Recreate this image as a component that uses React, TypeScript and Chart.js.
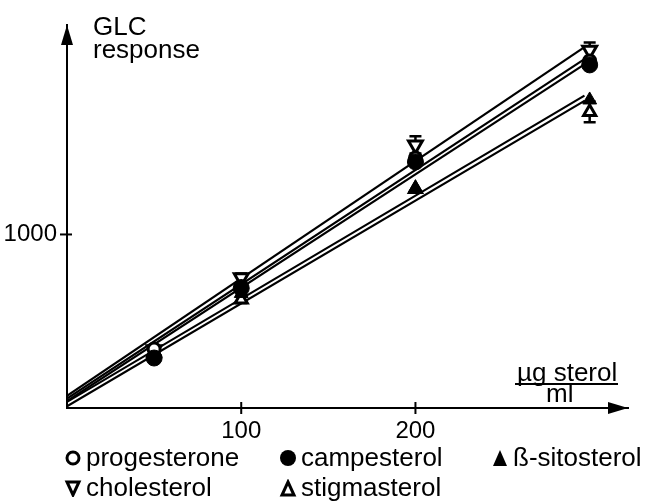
import React, { useEffect, useRef } from "react";
import { Chart, registerables } from "chart.js";

Chart.register(...registerables);

// ---- data ----
const xValues = [50, 100, 200, 300];
const progesterone = [340, 700, 1440, 2000];
const campesterol = [288, 690, 1418, 1977];
const sitosterol = [330, 660, 1268, 1775];
const cholesterol = [335, 750, 1516, 2061];
const stigmasterol = [320, 625, 1262, 1706];
const cholesterolErr = [0, 25, 50, 45];
const stigmasterolErr = [0, 20, 0, 60];

// regression lines: value at x = fitX[0] and x = fitX[1]
const fitX = [0, 297];
const cholesterolFit = [70, 2080];
const campesterolFit = [55, 2010];
const progesteroneFit = [40, 1980];
const sitosterolFit = [35, 1800];
const stigmasterolFit = [10, 1770];

const xTicks = [100, 200];
const yTicks = [1000];
const xMin = 0;
const xMax = 322;
const yMin = 0;
const yMax = 2207;

const FONT = '"Liberation Sans", Arial, sans-serif';

const pts = (vals: number[]) => vals.map((v, i) => ({ x: xValues[i], y: v }));
const fit = (vals: number[]) => vals.map((v, i) => ({ x: fitX[i], y: v }));

const errorSeries = [
  { values: cholesterol, errs: cholesterolErr },
  { values: stigmasterol, errs: stigmasterolErr },
];

const errorBarsPlugin = {
  id: "errorBars",
  beforeDatasetsDraw(chart: any) {
    const { ctx, scales } = chart;
    const x = scales.x;
    const y = scales.y;
    ctx.save();
    ctx.strokeStyle = "#000";
    ctx.lineWidth = 2.5;
    errorSeries.forEach(({ values, errs }) => {
      values.forEach((v, i) => {
        const e = errs[i];
        if (!e) return;
        const px = x.getPixelForValue(xValues[i]);
        const top = y.getPixelForValue(v + e);
        const bot = y.getPixelForValue(v - e);
        ctx.beginPath();
        ctx.moveTo(px, top);
        ctx.lineTo(px, bot);
        ctx.moveTo(px - 6, top);
        ctx.lineTo(px + 6, top);
        ctx.moveTo(px - 6, bot);
        ctx.lineTo(px + 6, bot);
        ctx.stroke();
      });
    });
    ctx.restore();
  },
};

const axesPlugin = {
  id: "axesDeco",
  afterDraw(chart: any) {
    const { ctx, scales, chartArea } = chart;
    const x = scales.x;
    const y = scales.y;
    ctx.save();
    ctx.strokeStyle = "#000";
    ctx.fillStyle = "#000";
    ctx.lineWidth = 2;
    xTicks.forEach((v) => {
      const px = x.getPixelForValue(v);
      ctx.beginPath();
      ctx.moveTo(px, chartArea.bottom - 6);
      ctx.lineTo(px, chartArea.bottom + 6);
      ctx.stroke();
    });
    yTicks.forEach((v) => {
      const py = y.getPixelForValue(v);
      ctx.beginPath();
      ctx.moveTo(chartArea.left - 7, py);
      ctx.lineTo(chartArea.left + 5, py);
      ctx.stroke();
    });
    const l = chartArea.left;
    const t = chartArea.top;
    ctx.beginPath();
    ctx.moveTo(l, t);
    ctx.lineTo(l - 6, t + 20);
    ctx.lineTo(l + 6, t + 20);
    ctx.closePath();
    ctx.fill();
    const r = chartArea.right;
    const b = chartArea.bottom;
    ctx.beginPath();
    ctx.moveTo(r, b);
    ctx.lineTo(r - 20, b - 6);
    ctx.lineTo(r - 20, b + 6);
    ctx.closePath();
    ctx.fill();
    ctx.restore();
  },
};

const lineDs = (data: any[]) => ({
  type: "line" as const,
  data,
  showLine: true,
  borderColor: "#000",
  borderWidth: 2.2,
  pointRadius: 0,
  fill: false,
  order: 2,
});

const markerDs = (data: any[], style: any, radius: number, filled: boolean, rotation = 0) => ({
  type: "scatter" as const,
  data,
  pointStyle: style,
  pointRadius: radius,
  pointRotation: rotation,
  pointBackgroundColor: filled ? "#000" : "#fff",
  pointBorderColor: "#000",
  pointBorderWidth: filled ? 1 : 3,
  showLine: false,
  order: 1,
});

function Marker({ kind }: { kind: string }) {
  const common = { stroke: "#000", strokeWidth: 3 };
  let shape: any = null;
  if (kind === "openCircle") shape = <circle cx={9} cy={9} r={6} fill="#fff" {...common} />;
  if (kind === "filledCircle") shape = <circle cx={9} cy={9} r={8} fill="#000" />;
  if (kind === "filledTri") shape = <polygon points="9,1 16,17 2,17" fill="#000" />;
  if (kind === "openTriDown") shape = <polygon points="3,3 15,3 9,16" fill="#fff" {...common} />;
  if (kind === "openTriUp") shape = <polygon points="9,3 15,16 3,16" fill="#fff" {...common} />;
  return (
    <svg width={18} height={18} style={{ display: "block" }}>
      {shape}
    </svg>
  );
}

const textStyle: React.CSSProperties = {
  position: "absolute",
  fontFamily: FONT,
  fontSize: 26,
  lineHeight: "26px",
  whiteSpace: "nowrap",
  color: "#000",
};

function LegendItem({ kind, label, left, top }: { kind: string; label: string; left: number; top: number }) {
  return (
    <>
      <div style={{ position: "absolute", left: left, top: top + 5 }}>
        <Marker kind={kind} />
      </div>
      <div style={{ ...textStyle, left: left + 22, top: top }}>{label}</div>
    </>
  );
}

export default function App() {
  const canvasRef = useRef<HTMLCanvasElement | null>(null);

  useEffect(() => {
    const canvas = canvasRef.current;
    if (!canvas) return;
    const chart = new Chart(canvas, {
      type: "scatter",
      data: {
        datasets: [
          markerDs(pts(campesterol), "circle", 8, true),
          markerDs(pts(progesterone), "circle", 6, false),
          markerDs(pts(sitosterol), "triangle", 8, true),
          markerDs(pts(cholesterol), "triangle", 8, false, 180),
          markerDs(pts(stigmasterol), "triangle", 7, false),
          lineDs(fit(cholesterolFit)),
          lineDs(fit(campesterolFit)),
          lineDs(fit(progesteroneFit)),
          lineDs(fit(sitosterolFit)),
          lineDs(fit(stigmasterolFit)),
        ] as any,
      },
      options: {
        animation: false,
        responsive: false,
        maintainAspectRatio: false,
        devicePixelRatio: 1,
        layout: { padding: { top: 25, right: 21, left: 0, bottom: 0 } },
        plugins: {
          legend: { display: false },
          tooltip: { enabled: false },
        },
        scales: {
          x: {
            type: "linear",
            min: xMin,
            max: xMax,
            grid: { display: false, drawTicks: false },
            border: { display: true, color: "#000", width: 2 },
            ticks: {
              color: "#000",
              font: { family: FONT, size: 24 },
              padding: 9,
              maxRotation: 0,
              callback: (v: any) => String(v),
            },
            afterBuildTicks: (s: any) => {
              s.ticks = xTicks.map((v) => ({ value: v }));
            },
            afterFit: (s: any) => {
              s.height = 94;
            },
          },
          y: {
            type: "linear",
            min: yMin,
            max: yMax,
            grid: { display: false, drawTicks: false },
            border: { display: true, color: "#000", width: 2 },
            ticks: {
              color: "#000",
              font: { family: FONT, size: 24 },
              padding: 10,
              callback: (v: any) => String(v),
            },
            afterBuildTicks: (s: any) => {
              s.ticks = yTicks.map((v) => ({ value: v }));
            },
            afterFit: (s: any) => {
              s.width = 67;
            },
          },
        },
      } as any,
      plugins: [errorBarsPlugin, axesPlugin],
    });
    return () => chart.destroy();
  }, []);

  return (
    <div style={{ position: "absolute", left: 0, top: 0, width: 649, height: 502, background: "#fff", overflow: "hidden" }}>
      <canvas ref={canvasRef} width={649} height={502} style={{ display: "block" }} />
      <div style={{ ...textStyle, left: 93, top: 13 }}>GLC</div>
      <div style={{ ...textStyle, left: 93, top: 36 }}>response</div>
      <div style={{ ...textStyle, left: 517, top: 359 }}>µg sterol</div>
      <div style={{ position: "absolute", left: 515, top: 383, width: 103, height: 2, background: "#000" }} />
      <div style={{ ...textStyle, left: 546, top: 380 }}>ml</div>
      <LegendItem kind="openCircle" label="progesterone" left={64} top={444} />
      <LegendItem kind="filledCircle" label="campesterol" left={279} top={444} />
      <LegendItem kind="filledTri" label="ß-sitosterol" left={491} top={444} />
      <LegendItem kind="openTriDown" label="cholesterol" left={64} top={474} />
      <LegendItem kind="openTriUp" label="stigmasterol" left={279} top={474} />
    </div>
  );
}
